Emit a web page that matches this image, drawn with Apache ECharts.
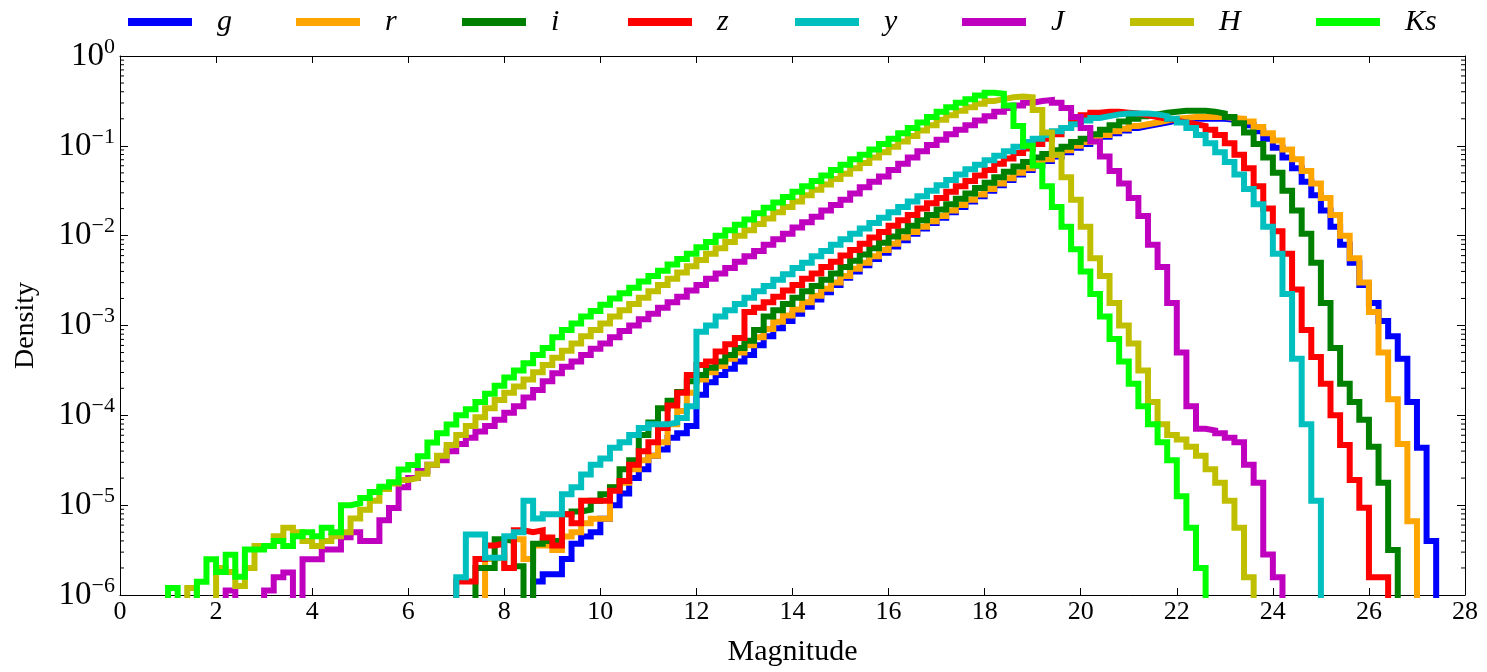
<!DOCTYPE html>
<html><head><meta charset="utf-8">
<script src="https://cdn.jsdelivr.net/npm/echarts@6/dist/echarts.min.js"></script>
<style>html,body{margin:0;padding:0;background:#fff}#c{width:1487px;height:672px}</style>
</head><body><div id="c"></div>
<script>
// ---- data (density per 0.2-mag bin; 0 = empty bin) ----
const binWidth = 0.2;
const bandNames = ['g', 'r', 'i', 'z', 'y', 'J', 'H', 'Ks'];
const bandColors = ['#0000ff', '#ffa500', '#008000', '#ff0000', '#00bfbf', '#bf00bf', '#bfbf00', '#00ff00'];
const xTicks = [0, 2, 4, 6, 8, 10, 12, 14, 16, 18, 20, 22, 24, 26, 28];

const gStart = 8.6;
const gDensity = [
  1.41e-6, 1.7e-6, 1.7e-6, 2.51e-6, 3.72e-6, 4.47e-6, 5.01e-6, 7.08e-6, 1.0e-5, 1.35e-5,
  2.0e-5, 2.51e-5, 3.55e-5, 4.17e-5, 5.62e-5, 6.31e-5, 7.59e-5, 1.7e-4, 2.34e-4, 2.82e-4,
  3.31e-4, 3.98e-4, 4.68e-4, 6.03e-4, 7.59e-4, 9.33e-4, 1.12e-3, 1.35e-3, 1.62e-3, 1.95e-3,
  2.34e-3, 2.82e-3, 3.39e-3, 3.98e-3, 4.68e-3, 5.5e-3, 6.46e-3, 7.59e-3, 8.91e-3, 1.05e-2,
  1.2e-2, 1.38e-2, 1.58e-2, 1.82e-2, 2.09e-2, 2.4e-2, 2.75e-2, 3.16e-2, 3.63e-2, 4.17e-2,
  4.79e-2, 5.37e-2, 6.03e-2, 6.76e-2, 7.59e-2, 8.51e-2, 9.55e-2, 0.105, 0.115, 0.126,
  0.138, 0.148, 0.158, 0.166, 0.174, 0.182, 0.191, 0.195, 0.200, 0.200,
  0.200, 0.200, 0.195, 0.186, 0.170, 0.145, 0.120, 9.55e-2, 7.41e-2, 5.62e-2,
  3.98e-2, 2.82e-2, 1.91e-2, 1.26e-2, 7.94e-3, 5.01e-3, 2.82e-3, 1.78e-3, 1.12e-3, 7.59e-4,
  4.27e-4, 1.41e-4, 4.37e-5, 3.98e-6
];

const rStart = 7.6;
const rDensity = [
  2.51e-6, 2.63e-6, 2.0e-6, 4.17e-6, 2.51e-6, 3.55e-6, 3.55e-6, 3.16e-6, 4.47e-6, 5.01e-6,
  6.31e-6, 7.08e-6, 7.08e-6, 1.58e-5, 1.78e-5, 2.51e-5, 3.16e-5, 3.55e-5, 5.01e-5, 7.94e-5,
  1.12e-4, 1.78e-4, 2.51e-4, 3.02e-4, 3.55e-4, 4.27e-4, 5.01e-4, 6.03e-4, 7.41e-4, 9.12e-4,
  1.1e-3, 1.29e-3, 1.51e-3, 1.82e-3, 2.14e-3, 2.57e-3, 3.02e-3, 3.55e-3, 4.27e-3, 5.01e-3,
  5.89e-3, 6.92e-3, 8.13e-3, 9.55e-3, 1.1e-2, 1.26e-2, 1.45e-2, 1.66e-2, 1.91e-2, 2.19e-2,
  2.51e-2, 2.88e-2, 3.31e-2, 3.8e-2, 4.37e-2, 5.01e-2, 5.62e-2, 6.31e-2, 7.08e-2, 7.94e-2,
  8.91e-2, 0.100, 0.110, 0.120, 0.132, 0.145, 0.155, 0.166, 0.174, 0.182,
  0.191, 0.200, 0.204, 0.209, 0.209, 0.209, 0.209, 0.204, 0.200, 0.186,
  0.162, 0.138, 0.115, 9.12e-2, 7.08e-2, 5.25e-2, 3.8e-2, 2.63e-2, 1.7e-2, 1.0e-2,
  5.62e-3, 3.02e-3, 1.41e-3, 5.01e-4, 1.51e-4, 4.79e-5, 6.61e-6
];

const iStart = 7.4;
const iDensity = [
  2.0e-6, 2.0e-6, 4.17e-6, 3.98e-6, 2.09e-6, 0, 3.72e-6, 3.98e-6, 3.98e-6, 7.94e-6,
  8.51e-6, 8.91e-6, 1.12e-5, 1.32e-5, 1.58e-5, 2.51e-5, 3.16e-5, 6.03e-5, 8.32e-5, 1.2e-4,
  1.45e-4, 1.82e-4, 2.4e-4, 2.82e-4, 3.39e-4, 3.98e-4, 4.68e-4, 5.62e-4, 6.76e-4, 8.91e-4,
  1.26e-3, 1.48e-3, 1.74e-3, 2.04e-3, 2.4e-3, 2.75e-3, 3.24e-3, 3.8e-3, 4.47e-3, 5.25e-3,
  6.17e-3, 7.24e-3, 8.32e-3, 9.77e-3, 1.12e-2, 1.29e-2, 1.48e-2, 1.7e-2, 1.95e-2, 2.24e-2,
  2.57e-2, 2.95e-2, 3.39e-2, 3.89e-2, 4.47e-2, 5.13e-2, 5.89e-2, 6.61e-2, 7.41e-2, 8.13e-2,
  8.91e-2, 9.77e-2, 0.110, 0.120, 0.135, 0.151, 0.170, 0.186, 0.200, 0.214,
  0.224, 0.234, 0.240, 0.245, 0.245, 0.245, 0.240, 0.229, 0.209, 0.178,
  0.141, 0.105, 7.41e-2, 5.01e-2, 3.16e-2, 1.91e-2, 1.05e-2, 5.01e-3, 1.78e-3, 5.62e-4,
  2.24e-4, 1.41e-4, 8.91e-5, 4.47e-5, 1.78e-5, 3.16e-6
];

const zStart = 7.0;
const zDensity = [
  1.41e-6, 1.41e-6, 2.51e-6, 3.55e-6, 3.72e-6, 2.0e-6, 5.25e-6, 5.0e-6, 5.25e-6, 4.37e-6,
  3.55e-6, 7.94e-6, 6.31e-6, 1.12e-5, 1.12e-5, 1.12e-5, 1.45e-5, 1.86e-5, 2.82e-5, 3.98e-5,
  5.01e-5, 7.24e-5, 1.29e-4, 1.78e-4, 2.82e-4, 3.63e-4, 3.98e-4, 5.13e-4, 6.17e-4, 7.24e-4,
  1.41e-3, 1.58e-3, 1.82e-3, 2.09e-3, 2.45e-3, 2.82e-3, 3.31e-3, 3.8e-3, 4.47e-3, 5.13e-3,
  6.03e-3, 6.92e-3, 8.13e-3, 9.55e-3, 1.1e-2, 1.29e-2, 1.48e-2, 1.7e-2, 2.0e-2, 2.29e-2,
  2.63e-2, 3.09e-2, 3.55e-2, 4.07e-2, 4.68e-2, 5.37e-2, 6.31e-2, 7.24e-2, 8.32e-2, 9.33e-2,
  0.105, 0.120, 0.135, 0.158, 0.191, 0.219, 0.234, 0.240, 0.240, 0.234,
  0.229, 0.219, 0.209, 0.200, 0.191, 0.182, 0.174, 0.166, 0.151, 0.132,
  0.107, 7.94e-2, 5.62e-2, 3.55e-2, 2.0e-2, 1.12e-2, 6.31e-3, 2.51e-3, 8.91e-4, 4.47e-4,
  2.24e-4, 1.0e-4, 4.68e-5, 1.91e-5, 9.33e-6, 1.58e-6, 1.58e-6
];

const yStart = 7.0;
const yDensity = [
  1.58e-6, 4.7e-6, 4.7e-6, 2.6e-6, 2.6e-6, 4.5e-6, 5.0e-6, 1.12e-5, 7.1e-6, 7.9e-6,
  7.9e-6, 1.32e-5, 1.58e-5, 2.19e-5, 2.82e-5, 3.31e-5, 4.37e-5, 5.01e-5, 6.03e-5, 7.24e-5,
  7.94e-5, 7.94e-5, 8.32e-5, 9.33e-5, 1.26e-4, 8.51e-4, 1.0e-3, 1.26e-3, 1.48e-3, 1.74e-3,
  2.04e-3, 2.4e-3, 2.75e-3, 3.24e-3, 3.72e-3, 4.37e-3, 5.01e-3, 5.89e-3, 6.76e-3, 7.94e-3,
  9.12e-3, 1.05e-2, 1.2e-2, 1.38e-2, 1.58e-2, 1.82e-2, 2.09e-2, 2.4e-2, 2.75e-2, 3.16e-2,
  3.63e-2, 4.17e-2, 4.79e-2, 5.5e-2, 6.17e-2, 6.92e-2, 7.76e-2, 8.71e-2, 9.77e-2, 0.110,
  0.120, 0.132, 0.145, 0.158, 0.174, 0.191, 0.204, 0.214, 0.224, 0.229,
  0.229, 0.229, 0.224, 0.214, 0.200, 0.182, 0.158, 0.132, 0.107, 8.51e-2,
  6.61e-2, 4.79e-2, 3.31e-2, 2.24e-2, 1.26e-2, 6.31e-3, 2.24e-3, 4.27e-4, 7.94e-5, 1.12e-5
];

const JStart = 2.2;
const JDensity = [
  1.12e-6, 0, 0, 0, 1.12e-6, 1.58e-6, 1.78e-6, 0, 2.5e-6, 2.5e-6,
  3.2e-6, 3.2e-6, 4.4e-6, 5.0e-6, 4.0e-6, 4.0e-6, 6.8e-6, 9.3e-6, 1.58e-5, 2.0e-5,
  2.4e-5, 2.82e-5, 3.16e-5, 3.98e-5, 4.79e-5, 5.62e-5, 6.61e-5, 7.59e-5, 8.91e-5, 1.07e-4,
  1.26e-4, 1.58e-4, 1.91e-4, 2.4e-4, 2.95e-4, 3.47e-4, 3.98e-4, 4.68e-4, 5.5e-4, 6.31e-4,
  7.41e-4, 8.71e-4, 1.0e-3, 1.17e-3, 1.35e-3, 1.58e-3, 1.82e-3, 2.09e-3, 2.45e-3, 2.82e-3,
  3.31e-3, 3.8e-3, 4.37e-3, 5.13e-3, 5.89e-3, 6.76e-3, 7.94e-3, 9.12e-3, 1.05e-2, 1.23e-2,
  1.41e-2, 1.62e-2, 1.91e-2, 2.19e-2, 2.51e-2, 2.95e-2, 3.47e-2, 3.98e-2, 4.57e-2, 5.37e-2,
  6.31e-2, 7.41e-2, 8.71e-2, 0.102, 0.117, 0.135, 0.151, 0.170, 0.191, 0.214,
  0.240, 0.263, 0.282, 0.302, 0.316, 0.324, 0.302, 0.263, 0.209, 0.158,
  0.112, 7.59e-2, 5.25e-2, 3.8e-2, 2.63e-2, 1.66e-2, 7.94e-3, 4.47e-3, 1.78e-3, 5.01e-4,
  1.26e-4, 7.08e-5, 6.76e-5, 6.31e-5, 5.62e-5, 5.01e-5, 2.82e-5, 1.78e-5, 2.82e-6, 1.58e-6
];

const HStart = 1.4;
const HDensity = [
  1.2e-6, 0, 0, 2.0e-6, 1.8e-6, 1.26e-6, 2.0e-6, 3.5e-6, 3.5e-6, 4.5e-6,
  5.6e-6, 5.0e-6, 4.0e-6, 3.5e-6, 4.0e-6, 4.5e-6, 5.0e-6, 7.1e-6, 8.9e-6, 1.12e-5,
  1.51e-5, 1.74e-5, 1.91e-5, 2.0e-5, 2.24e-5, 2.82e-5, 3.55e-5, 4.68e-5, 6.03e-5, 7.59e-5,
  9.55e-5, 1.2e-4, 1.48e-4, 1.78e-4, 2.09e-4, 2.51e-4, 3.02e-4, 3.63e-4, 4.37e-4, 5.25e-4,
  6.31e-4, 7.59e-4, 8.91e-4, 1.05e-3, 1.26e-3, 1.48e-3, 1.74e-3, 2.04e-3, 2.4e-3, 2.82e-3,
  3.31e-3, 3.89e-3, 4.57e-3, 5.37e-3, 6.31e-3, 7.24e-3, 8.51e-3, 1.0e-2, 1.15e-2, 1.35e-2,
  1.55e-2, 1.82e-2, 2.09e-2, 2.4e-2, 2.82e-2, 3.24e-2, 3.72e-2, 4.27e-2, 4.9e-2, 5.62e-2,
  6.46e-2, 7.41e-2, 8.51e-2, 9.77e-2, 0.112, 0.129, 0.148, 0.170, 0.195, 0.219,
  0.245, 0.269, 0.295, 0.316, 0.331, 0.347, 0.355, 0.347, 0.251, 0.141,
  7.94e-2, 4.47e-2, 2.51e-2, 1.26e-2, 5.62e-3, 3.55e-3, 1.78e-3, 1.0e-3, 6.31e-4, 3.16e-4,
  1.41e-4, 7.94e-5, 6.03e-5, 5.37e-5, 4.47e-5, 3.55e-5, 2.51e-5, 1.78e-5, 1.12e-5, 5.62e-6,
  1.58e-6
];

const KsStart = 1.0;
const KsDensity = [
  1.2e-6, 0, 0, 1.4e-6, 2.5e-6, 1.8e-6, 2.8e-6, 1.6e-6, 3.2e-6, 3.2e-6,
  3.5e-6, 4.0e-6, 3.5e-6, 4.5e-6, 5.0e-6, 4.5e-6, 5.6e-6, 5.0e-6, 1.0e-5, 1.05e-5,
  1.2e-5, 1.4e-5, 1.6e-5, 1.8e-5, 2.5e-5, 2.8e-5, 3.5e-5, 5.0e-5, 6.3e-5, 7.9e-5,
  1.0e-4, 1.17e-4, 1.41e-4, 1.74e-4, 2.14e-4, 2.63e-4, 3.16e-4, 3.8e-4, 4.68e-4, 5.62e-4,
  7.41e-4, 8.91e-4, 1.05e-3, 1.26e-3, 1.45e-3, 1.7e-3, 2.0e-3, 2.29e-3, 2.63e-3, 3.09e-3,
  3.55e-3, 4.07e-3, 4.79e-3, 5.5e-3, 6.31e-3, 7.41e-3, 8.51e-3, 1.0e-2, 1.15e-2, 1.32e-2,
  1.51e-2, 1.78e-2, 2.04e-2, 2.34e-2, 2.69e-2, 3.09e-2, 3.55e-2, 4.07e-2, 4.68e-2, 5.37e-2,
  6.17e-2, 7.08e-2, 7.94e-2, 9.12e-2, 0.105, 0.120, 0.138, 0.158, 0.182, 0.209,
  0.240, 0.269, 0.302, 0.331, 0.363, 0.389, 0.380, 0.282, 0.166, 0.100,
  6.03e-2, 3.55e-2, 2.09e-2, 1.26e-2, 7.08e-3, 3.98e-3, 2.24e-3, 1.26e-3, 7.08e-4, 3.98e-4,
  2.24e-4, 1.26e-4, 7.94e-5, 5.01e-5, 3.16e-5, 1.26e-5, 5.62e-6, 2.0e-6
];

const bandStarts = [gStart, rStart, iStart, zStart, yStart, JStart, HStart, KsStart];
const bandDensities = [gDensity, rDensity, iDensity, zDensity, yDensity, JDensity, HDensity, KsDensity];

// ---- build chart ----
const FONT = "'Liberation Serif', 'DejaVu Serif', serif";
const OFF_SCALE = 1e-9; // stand-in for empty bins (log axis cannot show 0); drawn below the axis and clipped

function histPoints(start, dens) {
  const pts = [[+(start - binWidth).toFixed(2), OFF_SCALE]];
  dens.forEach((d, k) => pts.push([+(start + k * binWidth).toFixed(2), d > 0 ? d : OFF_SCALE]));
  pts.push([+(start + dens.length * binWidth).toFixed(2), OFF_SCALE]);
  return pts;
}

const lineSeries = bandNames.map((name, k) => ({
  name: name,
  type: 'line',
  step: 'end',
  data: histPoints(bandStarts[k], bandDensities[k]),
  symbol: 'none',
  showSymbol: false,
  clip: true,
  lineStyle: { width: 6, color: bandColors[k], cap: 'butt', join: 'miter' },
  itemStyle: { color: bandColors[k] },
  z: 2 + k,
  animation: false
}));

// minor log ticks (2..9 x 10^e) on left and right frame
const minorTickValues = [];
for (let e = -6; e < 0; e++) for (let m = 2; m <= 9; m++) minorTickValues.push(m * Math.pow(10, e));

const minorTickSeries = {
  type: 'custom',
  silent: true,
  clip: false,
  z: 20,
  animation: false,
  data: minorTickValues.map(v => [0, v]),
  renderItem: function (params, api) {
    const v = api.value(1);
    const p = api.coord([0, v]);
    const q = api.coord([28, v]);
    return {
      type: 'group',
      children: [
        { type: 'line', shape: { x1: p[0], y1: p[1], x2: p[0] + 4, y2: p[1] }, style: { stroke: '#000', lineWidth: 1 } },
        { type: 'line', shape: { x1: q[0] - 4, y1: q[1], x2: q[0], y2: q[1] }, style: { stroke: '#000', lineWidth: 1 } }
      ]
    };
  }
};

const legendLefts = [128, 296, 462, 628, 795, 962, 1130, 1316];
const legends = bandNames.map((name, k) => ({
  data: [name],
  left: legendLefts[k],
  top: 7,
  padding: 0,
  icon: 'rect',
  itemWidth: 64,
  itemHeight: 8,
  selectedMode: false,
  textStyle: { fontFamily: FONT, fontStyle: 'italic', fontSize: 30, color: '#000', padding: [0, 0, 0, 20] }
}));

function supLabel(value) {
  const e = Math.round(Math.log10(value));
  const s = e === 0 ? '0' : '\u2212' + (-e);
  return '{b|10}{s|' + s + '}';
}

const chart = echarts.init(document.getElementById('c'), null, { renderer: 'canvas' });
chart.setOption({
  backgroundColor: '#fff',
  animation: false,
  legend: legends,
  grid: { left: 120, right: 22, top: 56, bottom: 74, containLabel: false },
  xAxis: [
    {
      type: 'value', min: 0, max: 28, interval: 2,
      name: 'Magnitude', nameLocation: 'middle', nameGap: 42,
      nameTextStyle: { fontFamily: FONT, fontSize: 30, color: '#000' },
      axisLine: { show: true, lineStyle: { color: '#000', width: 1 } },
      axisTick: { show: true, inside: true, length: 7, lineStyle: { color: '#000' } },
      axisLabel: { fontFamily: FONT, fontSize: 26, color: '#000', margin: 4,
        formatter: v => (xTicks.indexOf(v) >= 0 ? String(v) : '') },
      splitLine: { show: false }
    },
    {
      type: 'value', min: 0, max: 28, interval: 2, position: 'top',
      axisLine: { show: true, onZero: false, lineStyle: { color: '#000', width: 1 } },
      axisTick: { show: true, inside: true, length: 7, lineStyle: { color: '#000' } },
      axisLabel: { show: false },
      splitLine: { show: false }
    }
  ],
  yAxis: [
    {
      type: 'log', logBase: 10, min: 1e-6, max: 1,
      name: 'Density', nameLocation: 'middle', nameGap: 80, nameRotate: 90,
      nameTextStyle: { fontFamily: FONT, fontSize: 28, color: '#000' },
      axisLine: { show: true, lineStyle: { color: '#000', width: 1 } },
      axisTick: { show: true, inside: true, length: 8, lineStyle: { color: '#000' } },
      axisLabel: {
        margin: 5, color: '#000',
        formatter: supLabel,
        rich: {
          b: { fontFamily: FONT, fontSize: 33, color: '#000' },
          s: { fontFamily: FONT, fontSize: 22, color: '#000', padding: [0, 0, 18, 0] }
        }
      },
      splitLine: { show: false }
    },
    {
      type: 'log', logBase: 10, min: 1e-6, max: 1, position: 'right',
      axisLine: { show: true, onZero: false, lineStyle: { color: '#000', width: 1 } },
      axisTick: { show: true, inside: true, length: 8, lineStyle: { color: '#000' } },
      axisLabel: { show: false },
      splitLine: { show: false }
    }
  ],
  series: lineSeries.concat([minorTickSeries])
});
</script>
</body></html>
